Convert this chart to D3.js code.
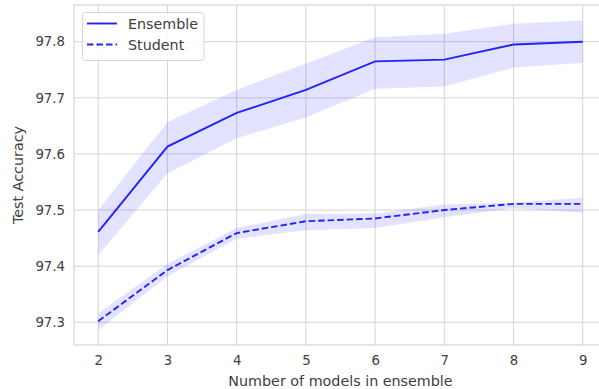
<!DOCTYPE html>
<html>
<head>
<meta charset="utf-8">
<script src="https://cdn.jsdelivr.net/npm/d3@7"></script>
<style>
  body { margin: 0; background: #fff; overflow: hidden; }
  svg { display: block; font-family: "DejaVu Sans", sans-serif; }
</style>
</head>
<body>
<svg id="chart" width="599" height="389"></svg>
<script>
// number of models in ensemble
const models = [2, 3, 4, 5, 6, 7, 8, 9];

// Ensemble accuracy: mean and band
const ensembleMean = [97.461, 97.613, 97.673, 97.714, 97.765, 97.768, 97.795, 97.800];
const ensembleLow  = [97.420, 97.565, 97.628, 97.665, 97.716, 97.720, 97.754, 97.762];
const ensembleHigh = [97.500, 97.657, 97.714, 97.761, 97.808, 97.814, 97.832, 97.838];

// Student accuracy: mean and band
const studentMean = [97.302, 97.393, 97.459, 97.480, 97.485, 97.500, 97.511, 97.511];
const studentLow  = [97.286, 97.382, 97.449, 97.464, 97.468, 97.487, 97.503, 97.495];
const studentHigh = [97.316, 97.404, 97.468, 97.493, 97.494, 97.510, 97.513, 97.522];

const yTicks = [97.3, 97.4, 97.5, 97.6, 97.7, 97.8];
const seriesNames = ["Ensemble", "Student"];

const svg = d3.select("#chart");
const margin = { left: 74, top: 5, right: 607, bottom: 345 };

const x = d3.scaleLinear()
  .domain([2 - 0.35, 9 + 0.35])
  .range([margin.left, margin.right]);
const y = d3.scaleLinear()
  .domain([97.2595, 97.8654])
  .range([margin.bottom, margin.top]);

const gridColor = "#d4d4d4";
const textColor = "#404040";
const lineColor = "#2222ff";
const bandColor = "rgba(0,0,255,0.11)";
const tickSize = "13.3px";
const labelSize = "14.3px";

// grid
const grid = svg.append("g");
grid.selectAll("line.vx")
  .data(models)
  .enter().append("line")
  .attr("x1", d => x(d)).attr("x2", d => x(d))
  .attr("y1", margin.top).attr("y2", margin.bottom)
  .attr("stroke", gridColor).attr("stroke-width", 1);
grid.selectAll("line.hy")
  .data(yTicks)
  .enter().append("line")
  .attr("x1", margin.left).attr("x2", margin.right)
  .attr("y1", d => y(d)).attr("y2", d => y(d))
  .attr("stroke", gridColor).attr("stroke-width", 1);

// frame
svg.append("rect")
  .attr("x", margin.left).attr("y", margin.top)
  .attr("width", margin.right - margin.left)
  .attr("height", margin.bottom - margin.top)
  .attr("fill", "none")
  .attr("stroke", gridColor).attr("stroke-width", 1.2);

// bands and lines
const area = (lo, hi) => d3.area()
  .x((d, i) => x(models[i]))
  .y0((d, i) => y(lo[i]))
  .y1((d, i) => y(hi[i]))(models);
const line = vals => d3.line()
  .x((d, i) => x(models[i]))
  .y((d, i) => y(vals[i]))(models);

svg.append("path").attr("d", area(ensembleLow, ensembleHigh)).attr("fill", bandColor);
svg.append("path").attr("d", area(studentLow, studentHigh)).attr("fill", bandColor);

svg.append("path").attr("d", line(ensembleMean))
  .attr("fill", "none").attr("stroke", lineColor).attr("stroke-width", 1.9);
svg.append("path").attr("d", line(studentMean))
  .attr("fill", "none").attr("stroke", lineColor).attr("stroke-width", 1.9)
  .attr("stroke-dasharray", "6.5,3");

// axes
const xAxis = svg.append("g")
  .attr("transform", `translate(0,${margin.bottom})`)
  .call(d3.axisBottom(x).tickValues(models).tickSize(0).tickPadding(11).tickFormat(d3.format("d")));
const yAxis = svg.append("g")
  .attr("transform", `translate(${margin.left},0)`)
  .call(d3.axisLeft(y).tickValues(yTicks).tickSize(0).tickPadding(9).tickFormat(d3.format(".1f")));
[xAxis, yAxis].forEach(g => {
  g.select(".domain").remove();
  g.selectAll("text").attr("fill", textColor).style("font-size", tickSize)
    .style("font-family", "'DejaVu Sans', sans-serif");
});

// axis labels
svg.append("text")
  .attr("x", (x(2) + x(9)) / 2).attr("y", 386)
  .attr("text-anchor", "middle")
  .attr("fill", textColor).style("font-size", labelSize)
  .text("Number of models in ensemble");
svg.append("text")
  .attr("transform", `translate(23,${(margin.top + margin.bottom) / 2}) rotate(-90)`)
  .attr("text-anchor", "middle")
  .attr("fill", textColor).style("font-size", labelSize)
  .text("Test Accuracy");

// legend
const legend = svg.append("g");
legend.append("rect")
  .attr("x", 82.5).attr("y", 12.5).attr("width", 121.5).attr("height", 48)
  .attr("rx", 3)
  .attr("fill", "rgba(255,255,255,0.85)")
  .attr("stroke", "#d8d8d8");
seriesNames.forEach((name, i) => {
  const ly = 23.5 + i * 21;
  legend.append("line")
    .attr("x1", 87).attr("x2", 117).attr("y1", ly).attr("y2", ly)
    .attr("stroke", lineColor).attr("stroke-width", 1.9)
    .attr("stroke-dasharray", i === 1 ? "6.5,3" : null);
  legend.append("text")
    .attr("x", 128).attr("y", ly + 5)
    .attr("fill", textColor).style("font-size", labelSize)
    .text(name);
});
</script>
</body>
</html>
